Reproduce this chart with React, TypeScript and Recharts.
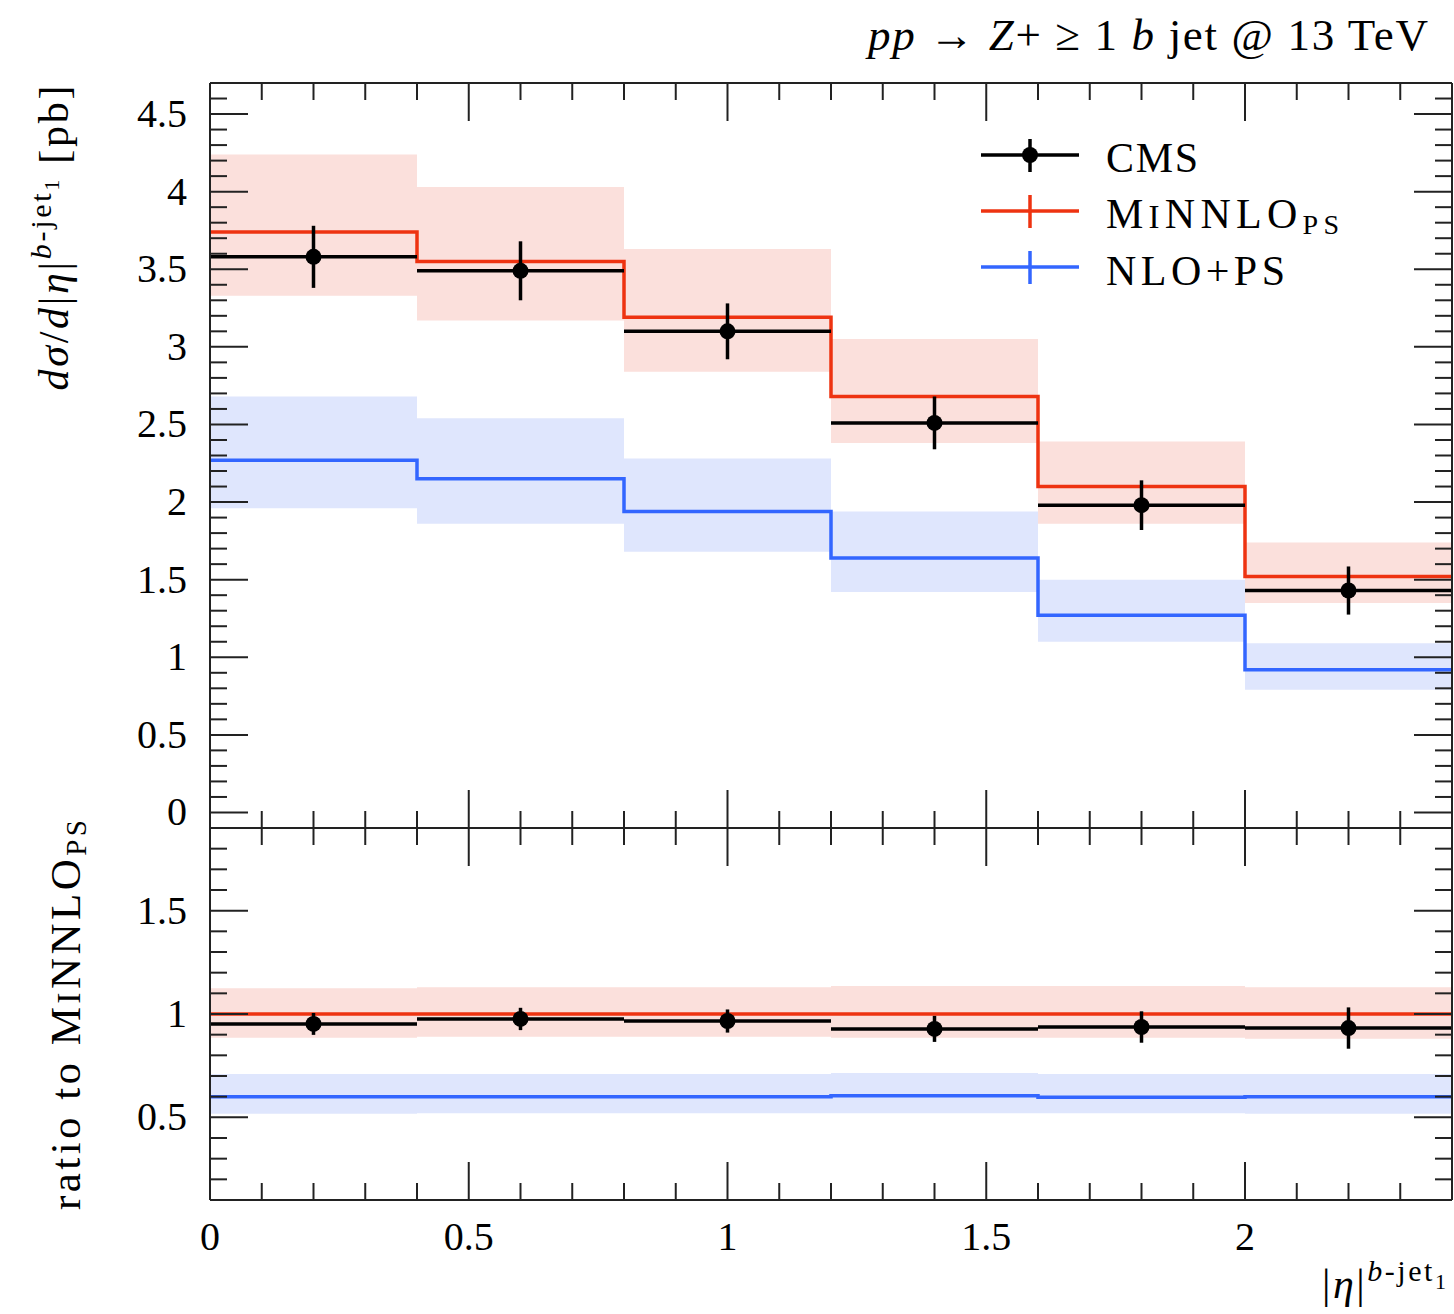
import { Area, ComposedChart, ErrorBar, Line, Scatter, XAxis, YAxis } from 'recharts'

// bins in |eta| of the leading b jet
const binEdges = [0, 0.4, 0.8, 1.2, 1.6, 2.0, 2.4]
const binCenters = [0.2, 0.6, 1.0, 1.4, 1.8, 2.2]
const binHalfWidth = [0.2, 0.2, 0.2, 0.2, 0.2, 0.2]

// upper panel: d sigma / d|eta| [pb]
const cmsValues = [3.58, 3.49, 3.1, 2.51, 1.98, 1.43]
const cmsErrors = [0.2, 0.19, 0.18, 0.17, 0.16, 0.155]
const minnloValues = [3.74, 3.55, 3.19, 2.68, 2.1, 1.52]
const minnloLow = [3.33, 3.17, 2.84, 2.38, 1.86, 1.35]
const minnloHigh = [4.24, 4.03, 3.63, 3.05, 2.39, 1.74]
const nloValues = [2.27, 2.15, 1.94, 1.64, 1.27, 0.92]
const nloLow = [1.96, 1.86, 1.68, 1.42, 1.1, 0.79]
const nloHigh = [2.68, 2.54, 2.28, 1.94, 1.5, 1.09]

// lower panel: ratio to MiNNLO_PS
const cmsRatio = [0.952, 0.976, 0.966, 0.928, 0.937, 0.932]
const cmsRatioErrors = [0.053, 0.054, 0.056, 0.063, 0.076, 0.1]
const minnloRatio = [1, 1, 1, 1, 1, 1]
const minnloRatioLow = [0.885, 0.89, 0.89, 0.885, 0.885, 0.88]
const minnloRatioHigh = [1.125, 1.13, 1.13, 1.135, 1.135, 1.13]
const nloRatio = [0.6, 0.6, 0.6, 0.604, 0.597, 0.6]
const nloRatioLow = [0.517, 0.52, 0.52, 0.52, 0.52, 0.517]
const nloRatioHigh = [0.71, 0.71, 0.71, 0.715, 0.71, 0.71]

// axis ticks (minor every 0.1, labelled every 0.5)
const steps = (from: number, count: number) =>
  Array.from({ length: count }, (_, i) => Math.round((from + i * 0.1) * 100) / 100)
const xTicks = steps(0, 25)
const upperYTicks = steps(0, 47)
const lowerYTicks = steps(0.2, 17)

const FONT = "'Liberation Serif', 'DejaVu Serif', serif"
const RED = '#ee3311'
const BLUE = '#3366ff'
const RED_BAND = '#fbe0dc'
const BLUE_BAND = '#dfe6fd'
const AXIS = '#222'

const stepRows = (values: number[], low: number[], high: number[]) =>
  binEdges.map((x, i) => {
    const k = Math.min(i, values.length - 1)
    return { x, v: values[k], band: [low[k], high[k]] }
  })

const pointRows = (values: number[], errors: number[]) =>
  binCenters.map((x, i) => ({ x, y: values[i], yErr: errors[i], xErr: binHalfWidth[i] }))

const isMajor = (v: number) => Math.abs(v * 2 - Math.round(v * 2)) < 1e-6
const fmt = (v: number) => String(Math.round(v * 10) / 10)

function makeTick(side: 'left' | 'right' | 'top' | 'bottom', labels: boolean) {
  return (props: any) => {
    const { x, y, payload } = props
    const v = payload.value as number
    const len = isMajor(v) ? 38 : 17
    let x2 = x
    let y2 = y
    if (side === 'left') x2 = x + len
    if (side === 'right') x2 = x - len
    if (side === 'top') y2 = y + len
    if (side === 'bottom') y2 = y - len
    return (
      <g>
        <line x1={x} y1={y} x2={x2} y2={y2} stroke={AXIS} strokeWidth={2} />
        {labels && isMajor(v) && side === 'left' && (
          <text x={x - 23} y={y + 13} textAnchor="end" fontFamily={FONT} fontSize={40} fill="#000">
            {fmt(v)}
          </text>
        )}
        {labels && isMajor(v) && side === 'bottom' && (
          <text x={x} y={y + 50} textAnchor="middle" fontFamily={FONT} fontSize={40} fill="#000">
            {fmt(v)}
          </text>
        )}
      </g>
    )
  }
}

const dot = (p: any) => <circle cx={p.cx} cy={p.cy} r={8} fill="#000" />

function Panel(props: {
  height: number
  margin: { top: number; right: number; bottom: number; left: number }
  yDomain: [number, number]
  yTicks: number[]
  xLabels: boolean
  cms: any[]
  red: any[]
  blue: any[]
}) {
  const { height, margin, yDomain, yTicks, xLabels, cms, red, blue } = props
  const axisLine = { stroke: AXIS, strokeWidth: 2 }
  return (
    <ComposedChart width={1454} height={height} margin={margin}>
      <XAxis
        xAxisId={0}
        dataKey="x"
        type="number"
        domain={[0, 2.4]}
        ticks={xTicks}
        interval={0}
        height={1}
        tickSize={0}
        tickMargin={0}
        axisLine={axisLine}
        tickLine={false}
        tick={makeTick('bottom', xLabels)}
        allowDataOverflow
      />
      <XAxis
        xAxisId="top"
        orientation="top"
        dataKey="x"
        type="number"
        domain={[0, 2.4]}
        ticks={xTicks}
        interval={0}
        height={1}
        tickSize={0}
        tickMargin={0}
        axisLine={axisLine}
        tickLine={false}
        tick={makeTick('top', false)}
        allowDataOverflow
      />
      <YAxis
        yAxisId={0}
        type="number"
        domain={yDomain}
        ticks={yTicks}
        interval={0}
        width={1}
        tickSize={0}
        tickMargin={0}
        axisLine={axisLine}
        tickLine={false}
        tick={makeTick('left', true)}
        allowDataOverflow
      />
      <YAxis
        yAxisId="right"
        orientation="right"
        type="number"
        domain={yDomain}
        ticks={yTicks}
        interval={0}
        width={1}
        tickSize={0}
        tickMargin={0}
        axisLine={axisLine}
        tickLine={false}
        tick={makeTick('right', false)}
        allowDataOverflow
      />
      <Area data={red} dataKey="band" type="stepAfter" fill={RED_BAND} fillOpacity={1} stroke="none" isAnimationActive={false} />
      <Area data={blue} dataKey="band" type="stepAfter" fill={BLUE_BAND} fillOpacity={1} stroke="none" isAnimationActive={false} />
      <Line data={red} dataKey="v" type="stepAfter" stroke={RED} strokeWidth={3.5} dot={false} isAnimationActive={false} />
      <Line data={blue} dataKey="v" type="stepAfter" stroke={BLUE} strokeWidth={3.5} dot={false} isAnimationActive={false} />
      <Scatter data={cms} dataKey="y" fill="#000" shape={dot} isAnimationActive={false}>
        <ErrorBar dataKey="xErr" direction="x" width={0} stroke="#000" strokeWidth={3.5} isAnimationActive={false} />
        <ErrorBar dataKey="yErr" direction="y" width={0} stroke="#000" strokeWidth={3.5} isAnimationActive={false} />
      </Scatter>
    </ComposedChart>
  )
}

function Labels() {
  const text = { fontFamily: FONT, fill: '#000' }
  return (
    <svg width={1454} height={1314} style={{ position: 'absolute', left: 0, top: 0, pointerEvents: 'none' }}>
      <text x={1428} y={50} textAnchor="end" fontSize={45} textLength={560} lengthAdjust="spacing" {...text}>
        <tspan fontStyle="italic">pp</tspan>
        {' → '}
        <tspan fontStyle="italic">Z</tspan>
        {'+ ≥ 1 '}
        <tspan fontStyle="italic">b</tspan>
        {' jet @ 13 TeV'}
      </text>

      <text transform="rotate(-90)" x={-238} y={68} textAnchor="middle" fontSize={42} textLength={305} lengthAdjust="spacing" {...text}>
        <tspan fontStyle="italic">dσ</tspan>/<tspan fontStyle="italic">d</tspan>|<tspan fontStyle="italic">η</tspan>|
        <tspan fontSize={30} dy={-17}>
          <tspan fontStyle="italic">b</tspan>-jet
        </tspan>
        <tspan fontSize={22} dy={8}>1</tspan>
        <tspan dy={9}>{' [pb]'}</tspan>
      </text>

      <text transform="rotate(-90)" x={-1015} y={80} textAnchor="middle" fontSize={43} textLength={390} lengthAdjust="spacing" {...text}>
        {'ratio to M'}
        <tspan fontSize={34}>I</tspan>
        NNLO
        <tspan fontSize={29} dy={6}>PS</tspan>
      </text>

      <text x={1446} y={1298} textAnchor="end" fontSize={42} textLength={124} lengthAdjust="spacing" {...text}>
        |<tspan fontStyle="italic">η</tspan>|
        <tspan fontSize={30} dy={-17}>
          <tspan fontStyle="italic">b</tspan>-jet
        </tspan>
        <tspan fontSize={22} dy={8}>1</tspan>
      </text>

      <g>
        <line x1={981} y1={155} x2={1079} y2={155} stroke="#000" strokeWidth={3.5} />
        <line x1={1030} y1={139} x2={1030} y2={172} stroke="#000" strokeWidth={3.5} />
        <circle cx={1030} cy={155} r={8} fill="#000" />
        <text x={1106} y={172} fontSize={42} textLength={92} lengthAdjust="spacing" {...text}>CMS</text>

        <line x1={981} y1={211} x2={1079} y2={211} stroke={RED} strokeWidth={3.5} />
        <line x1={1030} y1={195} x2={1030} y2={228} stroke={RED} strokeWidth={3.5} />
        <text x={1106} y={228} fontSize={42} textLength={233} lengthAdjust="spacing" {...text}>
          M<tspan fontSize={33}>I</tspan>NNLO<tspan fontSize={28} dy={6}>PS</tspan>
        </text>

        <line x1={981} y1={267} x2={1079} y2={267} stroke={BLUE} strokeWidth={3.5} />
        <line x1={1030} y1={251} x2={1030} y2={284} stroke={BLUE} strokeWidth={3.5} />
        <text x={1106} y={285} fontSize={42} textLength={179} lengthAdjust="spacing" {...text}>NLO+PS</text>
      </g>
    </svg>
  )
}

export default function App() {
  return (
    <div style={{ position: 'absolute', left: 0, top: 0, width: 1454, height: 1314, background: '#fff' }}>
      <div style={{ position: 'absolute', left: 0, top: 0 }}>
        <Panel
          height={840}
          margin={{ top: 82, right: 1, bottom: 11, left: 209 }}
          yDomain={[-0.1, 4.7]}
          yTicks={upperYTicks}
          xLabels={false}
          cms={pointRows(cmsValues, cmsErrors)}
          red={stepRows(minnloValues, minnloLow, minnloHigh)}
          blue={stepRows(nloValues, nloLow, nloHigh)}
        />
      </div>
      <div style={{ position: 'absolute', left: 0, top: 816 }}>
        <Panel
          height={498}
          margin={{ top: 11, right: 1, bottom: 113, left: 209 }}
          yDomain={[0.1, 1.9]}
          yTicks={lowerYTicks}
          xLabels={true}
          cms={pointRows(cmsRatio, cmsRatioErrors)}
          red={stepRows(minnloRatio, minnloRatioLow, minnloRatioHigh)}
          blue={stepRows(nloRatio, nloRatioLow, nloRatioHigh)}
        />
      </div>
      <Labels />
    </div>
  )
}
